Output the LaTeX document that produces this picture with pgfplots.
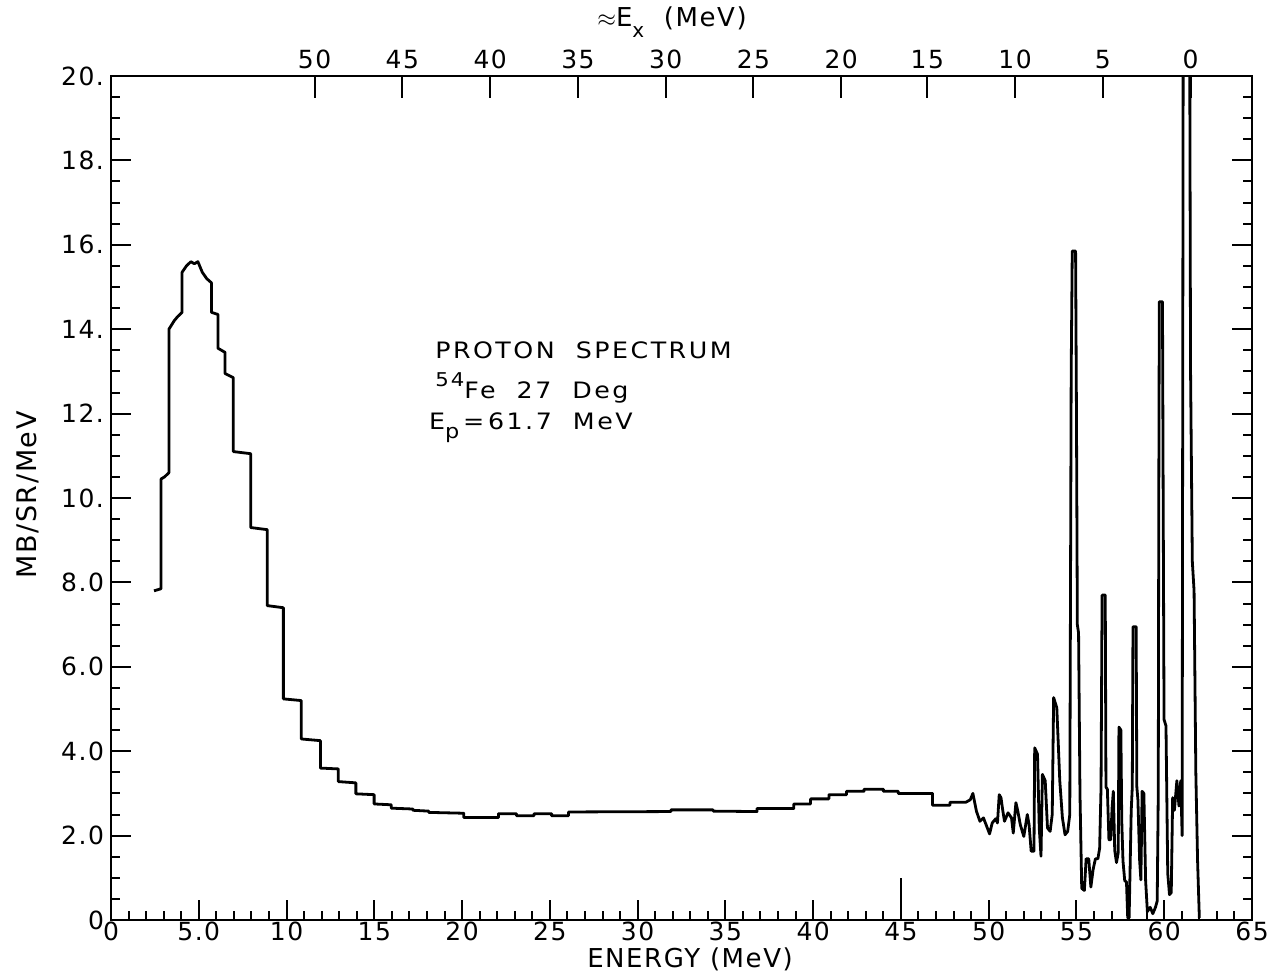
\documentclass[border=0pt]{standalone}
\usepackage{fontspec}
\setmainfont{DejaVu Sans}[LetterSpace=6]
\newfontfamily\annfont{DejaVu Sans}[FakeStretch=1.12,LetterSpace=11]
\usepackage{pgfplots}
\pgfplotsset{compat=1.18}
\begin{document}
\begin{tikzpicture}
\useasboundingbox (-55.5pt,-27.5pt) rectangle (584pt,460pt);
\begin{axis}[
  at={(0,0)}, anchor=south west,
  scale only axis, width=570.5pt, height=422pt,
  xmin=0, xmax=65, ymin=0, ymax=20,
  xtick={0,5,...,65},
  xticklabels={0,5.0,10,15,20,25,30,35,40,45,50,55,60,65},
  minor x tick num=4,
  ytick={0,2,...,20},
  yticklabels={0,2.0,4.0,6.0,8.0,10.,12.,14.,16.,18.,20.},
  minor y tick num=3,
  xtick pos=left, ytick pos=both,
  tick align=inside,
  major tick length=10pt, minor tick length=4.5pt,
  axis line style={line width=1.2pt},
  every tick/.style={line width=1pt, black},
  tick label style={font=\fontsize{12.5}{14}\selectfont},
  xticklabel style={yshift=2.5pt},
  extra x ticks={45}, extra x tick labels={},
  extra x tick style={major tick length=21pt},
]
\addplot[black, line width=1.4pt, line join=round] coordinates {
(2.45,7.8)(2.85,7.85)(2.85,10.45)(3.05,10.5)(3.3,10.6)(3.3,14.0)(3.6,14.2)(3.8,14.3)(4.05,14.4)
(4.05,15.35)(4.3,15.5)(4.55,15.6)(4.75,15.55)(4.95,15.6)(5.2,15.35)(5.45,15.2)(5.72,15.1)
(5.72,14.4)(6.09,14.35)(6.09,13.55)(6.5,13.45)(6.5,12.95)(6.97,12.85)(6.97,11.1)(7.96,11.05)
(7.96,9.3)(8.9,9.25)(8.9,7.45)(9.82,7.4)(9.82,5.24)(10.84,5.2)(10.84,4.29)(11.93,4.25)
(11.93,3.6)(12.95,3.58)(12.95,3.28)(13.95,3.25)(13.95,2.99)(14.99,2.97)(14.99,2.75)(15.97,2.73)
(15.97,2.65)(17.2,2.63)(17.2,2.6)(18.1,2.58)(18.1,2.55)(20.1,2.53)(20.1,2.43)(22.07,2.43)
(22.07,2.52)(23.1,2.52)(23.1,2.47)(24.1,2.47)(24.1,2.52)(25.1,2.52)(25.1,2.47)(26.06,2.47)
(26.06,2.56)(31.9,2.57)(31.9,2.61)(34.3,2.61)(34.3,2.58)(36.8,2.57)(36.8,2.64)(38.9,2.64)
(38.9,2.75)(39.85,2.75)(39.85,2.87)(40.9,2.87)(40.9,2.97)(41.9,2.97)(41.9,3.05)(42.9,3.05)
(42.9,3.1)(44.0,3.1)(44.0,3.05)(44.85,3.05)(44.85,3.0)(46.8,3.0)(46.8,2.72)(47.8,2.72)
(47.8,2.79)(48.7,2.79)(48.95,2.85)(49.1,3.0)(49.3,2.58)(49.5,2.34)(49.7,2.42)(49.85,2.26)
(50.05,2.04)(50.2,2.3)(50.4,2.4)(50.5,2.3)(50.6,2.97)(50.7,2.9)(50.8,2.6)(50.9,2.34)
(51.1,2.54)(51.3,2.42)(51.4,2.06)(51.55,2.78)(51.65,2.6)(51.8,2.26)(52.0,1.98)(52.2,2.5)
(52.3,2.26)(52.42,1.63)(52.58,1.63)(52.62,4.08)(52.78,3.93)(52.88,2.18)(52.98,1.51)(53.06,3.45)
(53.22,3.3)(53.35,2.18)(53.5,2.1)(53.62,2.5)(53.7,5.27)(53.88,5.03)(54.05,3.3)(54.2,2.42)
(54.35,2.02)(54.5,2.1)(54.62,2.5)(54.7,13.0)(54.76,15.85)(54.95,15.85)(55.0,12.0)(55.05,7.0)
(55.12,6.8)(55.2,3.0)(55.3,0.75)(55.45,0.7)(55.55,1.45)(55.7,1.45)(55.82,0.78)(55.95,1.2)
(56.08,1.45)(56.22,1.45)(56.32,1.7)(56.4,3.15)(56.46,7.7)(56.64,7.7)(56.68,3.15)(56.76,3.1)
(56.85,1.9)(56.95,1.9)(57.03,2.66)(57.1,3.05)(57.18,1.65)(57.28,1.36)(57.38,1.6)(57.42,4.57)
(57.53,4.5)(57.58,2.35)(57.65,1.4)(57.75,0.93)(57.85,0.9)(57.92,0.05)(58.0,0.05)(58.05,1.1)
(58.12,2.6)(58.18,3.15)(58.22,6.95)(58.4,6.95)(58.44,3.15)(58.5,2.85)(58.6,1.4)(58.67,0.95)
(58.74,3.05)(58.84,3.0)(58.94,0.93)(59.04,0.2)(59.2,0.3)(59.35,0.15)(59.5,0.3)(59.6,0.45)
(59.66,3.0)(59.69,10.0)(59.72,14.65)(59.9,14.65)(59.94,10.0)(59.99,4.75)(60.1,4.6)(60.2,1.1)
(60.3,0.6)(60.4,0.65)(60.48,2.9)(60.58,2.6)(60.72,3.3)(60.84,2.7)(60.94,3.3)(61.02,2.0)
(61.08,21)(61.45,21)(61.5,13.0)(61.6,8.5)(61.7,7.8)(61.8,3.5)(61.9,1.4)(62.0,0.05)
};
\node[anchor=base west, inner sep=0pt, font=\annfont\fontsize{11.3}{13}\selectfont] at (axis cs:18.45,13.3) {PROTON\ \ SPECTRUM};
\node[anchor=base west, inner sep=0pt, font=\annfont\fontsize{11.3}{13}\selectfont] at (axis cs:18.45,12.35) {\raisebox{0.55em}{\fontsize{9.5}{9}\selectfont 54}Fe\ \ 27\ \ Deg};
\node[anchor=base west, inner sep=0pt, font=\annfont\fontsize{11.3}{13}\selectfont] at (axis cs:18.1,11.63) {E\raisebox{-0.4em}{\fontsize{10}{9}\selectfont p}\,=\,61.7\ \ MeV};
\end{axis}
\begin{axis}[
  at={(0,0)}, anchor=south west,
  scale only axis, width=570.5pt, height=422pt,
  xmin=0, xmax=65, ymin=0, ymax=20,
  axis x line*=top, axis y line=none,
  xtick={11.6,16.6,21.6,26.6,31.6,36.6,41.6,46.5,51.5,56.5,61.5},
  xticklabels={50,45,40,35,30,25,20,15,10,5,0},
  minor x tick num=0,
  tick align=inside,
  major tick length=11pt,
  axis line style={line width=1.2pt},
  every tick/.style={line width=1pt, black},
  tick label style={font=\fontsize{12.5}{14}\selectfont},
]
\addplot[draw=none] coordinates {(0,0)};
\end{axis}
\node[rotate=90, font=\fontsize{13.5}{15}\selectfont] at (-41.5pt,212.5pt) {MB/SR/MeV};
\node[font=\fontsize{13}{15}\selectfont] at (289.5pt,-19.5pt) {ENERGY\ (MeV)};
\node[font=\fontsize{13}{15}\selectfont] at (280.5pt,449pt) {$\approx$E\raisebox{-0.4em}{\fontsize{10}{10}\selectfont x}\ \ (MeV)};
\end{tikzpicture}
\end{document}
